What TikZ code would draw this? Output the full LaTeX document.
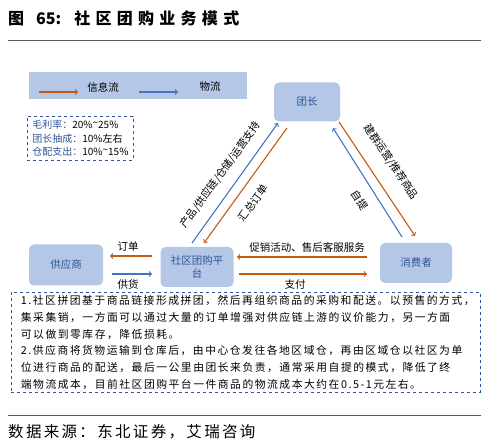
\documentclass[tikz,border=0pt]{standalone}
\usepackage{fontspec}
\setmainfont{Noto Sans CJK SC}
\usetikzlibrary{positioning}
\definecolor{orangeflow}{HTML}{C55A11}
\definecolor{blueflow}{HTML}{4472C4}
\definecolor{boxfill}{HTML}{B4C7E7}
\definecolor{boxtext}{HTML}{2F5597}
\definecolor{dashblue}{HTML}{2F5597}
\definecolor{rulegray}{HTML}{595959}

\begin{document}
\begin{tikzpicture}[x=1pt,y=-1pt,
   party/.style={rectangle,rounded corners=5pt,fill=boxfill,text=boxtext,
                 minimum width=73pt,minimum height=40pt,align=center,
                 font=\fontsize{10.5}{13}\selectfont},
   info/.style={draw=orangeflow,line width=1.1pt,->},
   goods/.style={draw=blueflow,line width=1.1pt,->},
   lbl/.style={inner sep=0pt,font=\fontsize{10.5}{12}\selectfont}]
   \useasboundingbox (0,0) rectangle (490,446);

   % title and rules
   \node[anchor=west,inner sep=0pt,font=\fontsize{16}{18}\selectfont\bfseries] (title) at (8,18)
        {图\hspace{12pt}65:\hspace{13pt}{\addfontfeature{LetterSpace=33}社区团购业务模式}};
   \draw[rulegray,line width=0.9pt] (8,40) -- (481,40);
   \draw[rulegray,line width=0.9pt] (8,415) -- (481,415);
   \node[anchor=west,inner sep=0pt,font=\fontsize{15.5}{18}\selectfont\addfontfeature{LetterSpace=15}] (source) at (8,432)
        {数据来源：东北证券，艾瑞咨询};

   % legend
   \node[fill=boxfill,minimum width=218pt,minimum height=27pt,inner sep=0pt] (legend) at (137.5,85.5) {};
   \coordinate (li-s) at (39,92);  \coordinate (li-e) at (78,92);
   \coordinate (lg-s) at (139,92); \coordinate (lg-e) at (178,92);
   \draw[info] (li-s) -- (li-e);
   \draw[goods] (lg-s) -- (lg-e);
   \node[lbl] (li-t) at (103,87) {信息流};
   \node[lbl] (lg-t) at (210,87) {物流};

   % cost box
   \node[draw=dashblue,dashed,line width=0.8pt,align=left,anchor=north west,
         minimum width=106pt,minimum height=44pt,inner sep=3pt,
         font=\fontsize{10}{13.5}\selectfont] (cost) at (27,116)
        {\textcolor{boxtext}{毛利率：}20\%\raisebox{2pt}{\textasciitilde}25\%\\
         \textcolor{boxtext}{团长抽成：}10\%左右\\
         \textcolor{boxtext}{仓配支出：}10\%\raisebox{2pt}{\textasciitilde}15\%};

   % parties
   \node[party,minimum width=66pt,minimum height=39pt] (leader) at (307,102) {团长};
   \node[party] (platform) at (197,267) {社区团购平\\台};
   \node[party,minimum width=74pt,minimum height=41pt] (supplier) at (66,265) {供应商};
   \node[party,minimum width=72pt] (consumer) at (416,263) {消费者};

   % flows
   \coordinate (o1-s) at (152,256); \coordinate (o1-e) at (110,256);
   \coordinate (g1-s) at (112,274); \coordinate (g1-e) at (152,274);
   \coordinate (o2-s) at (367,257); \coordinate (o2-e) at (237,257);
   \coordinate (o3-s) at (239,274); \coordinate (o3-e) at (367,274);
   \coordinate (g2-s) at (192,243); \coordinate (g2-e) at (278,123);
   \coordinate (o4-s) at (287,128); \coordinate (o4-e) at (204,243);
   \coordinate (o5-s) at (339,122); \coordinate (o5-e) at (415,236);
   \coordinate (g3-s) at (402,237); \coordinate (g3-e) at (333,128);
   \draw[info]  (o1-s) -- (o1-e);
   \draw[goods] (g1-s) -- (g1-e);
   \draw[info]  (o2-s) -- (o2-e);
   \draw[info]  (o3-s) -- (o3-e);
   \draw[goods] (g2-s) -- (g2-e);
   \draw[info]  (o4-s) -- (o4-e);
   \draw[info]  (o5-s) -- (o5-e);
   \draw[goods] (g3-s) -- (g3-e);

   \node[lbl] (order)   at (128,247) {订单};
   \node[lbl] (supply)  at (128,284) {供货};
   \node[lbl] (promo)   at (307,247) {促销活动、售后客服服务};
   \node[lbl] (pay)     at (295,285) {支付};
   \node[lbl,rotate=54]  (support) at (220.5,175) {产品/供应链/仓储/运营支持};
   \node[lbl,rotate=54]  (collect) at (253,203) {汇总订单};
   \node[lbl,rotate=-56] (promote) at (391,162) {建群运营/推荐商品};
   \node[lbl,rotate=-57] (pickup)  at (360,200) {自提};

   % notes
   \node[draw=dashblue,dashed,line width=0.8pt,anchor=north west,align=left,
         minimum width=469pt,minimum height=100pt,inner sep=0pt,text width=462pt,
         font=\fontsize{10.8}{16.7}\selectfont\addfontfeature{LetterSpace=14}] (notes) at (11,292)
        {\hspace*{6pt}1.社区拼团基于商品链接形成拼团，然后再组织商品的采购和配送。以预售的方式，\\
         \hspace*{6pt}集采集销，一方面可以通过大量的订单增强对供应链上游的议价能力，另一方面\\
         \hspace*{6pt}可以做到零库存，降低损耗。\\
         \hspace*{6pt}2.供应商将货物运输到仓库后，由中心仓发往各地区域仓，再由区域仓以社区为单\\
         \hspace*{6pt}位进行商品的配送，最后一公里由团长来负责，通常采用自提的模式，降低了终\\
         \hspace*{6pt}端物流成本，目前社区团购平台一件商品的物流成本大约在0.5-1元左右。};
\end{tikzpicture}
\end{document}
